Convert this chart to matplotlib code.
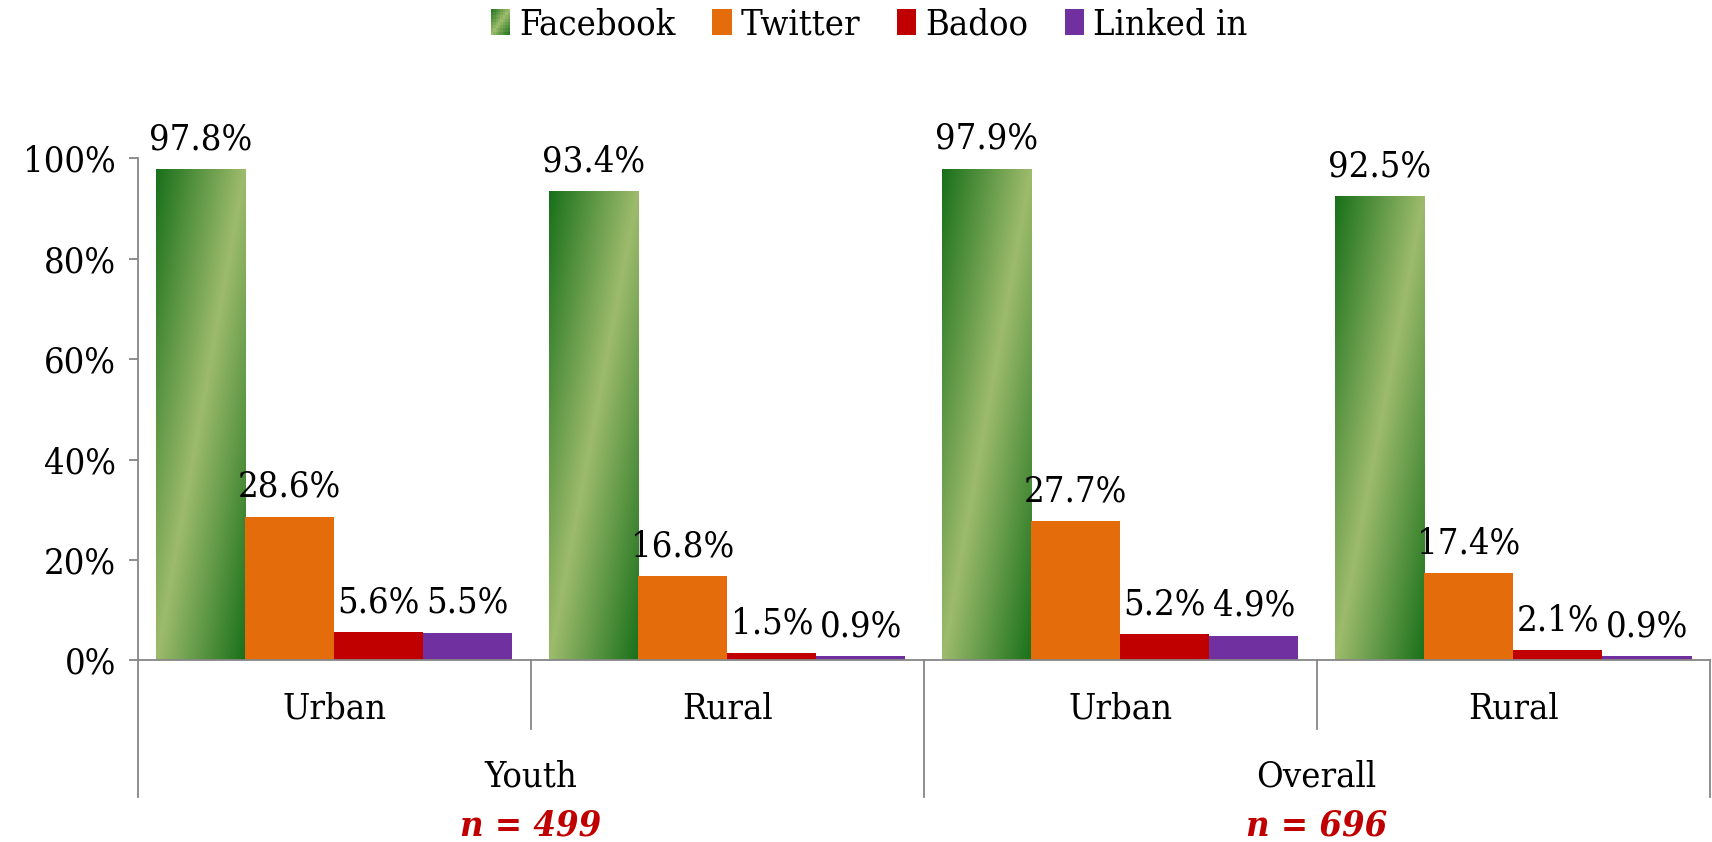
import numpy as np
import matplotlib
matplotlib.use('Agg')
import matplotlib.pyplot as plt
from matplotlib.patches import Rectangle, Patch
from matplotlib.legend_handler import HandlerBase
from matplotlib.colors import to_rgb

plt.rcParams['font.family'] = ['DejaVu Serif']
plt.rcParams['font.stretch'] = 'condensed'

groups = ['Youth', 'Overall']
sample_n = [499, 696]
areas = ['Urban', 'Rural', 'Urban', 'Rural']
series = ['Facebook', 'Twitter', 'Badoo', 'Linked in']
facebook = [97.8, 93.4, 97.9, 92.5]
twitter = [28.6, 16.8, 27.7, 17.4]
badoo = [5.6, 1.5, 5.2, 2.1]
linkedin = [5.5, 0.9, 4.9, 0.9]

values = [facebook, twitter, badoo, linkedin]
colors = [None, '#e46c0a', '#c00000', '#7030a0']
dark = np.array(to_rgb('#19701a'))
light = np.array(to_rgb('#9dbb6c'))
grey = '#868686'
FS = 26


def green_at(u, v):
    # diagonal gradient: dark corners, light band along the anti-diagonal
    t = (u + v) / 2
    s = 1 - np.abs(2 * t - 1)
    return dark + (light - dark) * s[..., None]


class GradientHandler(HandlerBase):
    def create_artists(self, legend, orig_handle, xdescent, ydescent,
                       width, height, fontsize, trans):
        arts = []
        n = 8
        for i in range(n):
            for j in range(n):
                c = green_at(np.array((i + 0.5) / n), np.array((j + 0.5) / n))
                r = Rectangle((-xdescent + i * width / n, -ydescent + height - (j + 1) * height / n),
                              width / n, height / n, facecolor=c, edgecolor='none',
                              transform=trans)
                arts.append(r)
        return arts


fig = plt.figure(figsize=(17.12, 8.42), dpi=100)
ax = fig.add_axes([0.0804, 0.2156, 0.9183, 0.5964])

ncat = len(areas)
w = 1 / (4 + 0.41)
x = np.arange(ncat) + 0.5

uu, vv = np.meshgrid(np.linspace(0, 1, 60), np.linspace(0, 1, 200))
grad = green_at(uu, vv)

for k, (vals, col) in enumerate(zip(values, colors)):
    xs = x - 2 * w + (k + 0.5) * w
    fracs = np.array(vals) / 100
    if col is None:
        bars = ax.bar(xs, fracs, w, facecolor='none', edgecolor='none', zorder=2)
        for b in bars:
            x0 = b.get_x()
            im = ax.imshow(grad, extent=[x0, x0 + w, 0, b.get_height()],
                           aspect='auto', zorder=2, origin='upper')
            im.set_clip_path(b)
    else:
        ax.bar(xs, fracs, w, color=col, edgecolor='none', zorder=2)
    for xi, v in zip(xs, vals):
        ax.annotate(f'{v:.1f}%', (xi, v / 100), xytext=(0, 21.5),
                    textcoords='offset points', ha='center', va='center',
                    fontsize=FS, annotation_clip=False)

ax.set_xlim(0, ncat)
ax.set_ylim(0, 1)
ax.set_yticks(np.arange(0, 1.01, 0.2))
ax.set_yticklabels([f'{int(round(t * 100))}%' for t in np.arange(0, 1.01, 0.2)])
ax.tick_params(axis='y', length=6.5, width=1.3, color=grey, pad=9, labelsize=FS)
ax.tick_params(axis='x', length=0, labelbottom=False)
for s in ['top', 'right']:
    ax.spines[s].set_visible(False)
for s in ['left', 'bottom']:
    ax.spines[s].set_color(grey)
    ax.spines[s].set_linewidth(1.3)

tr = ax.get_xaxis_transform()
# category separators below the axis
for b in range(ncat + 1):
    low = -0.2718 if b % 2 == 0 else -0.1364
    ax.plot([b, b], [0, low], color=grey, lw=1.3, transform=tr, clip_on=False)

for xi, a in zip(x, areas):
    ax.text(xi, -0.0966, a, transform=tr, ha='center', va='center', fontsize=FS)
for g, (name, n) in enumerate(zip(groups, sample_n)):
    gx = 2 * g + 1
    ax.text(gx, -0.2318, name, transform=tr, ha='center', va='center', fontsize=FS)
    ax.text(gx, -0.3296, f'n = {n}', transform=tr, ha='center', va='center',
            fontsize=FS, color='#c00000', fontweight='bold', fontstyle='italic')

handles = [Patch(label=series[0])] + [Patch(facecolor=c, label=s) for c, s in zip(colors[1:], series[1:])]
fig.legend(handles=handles, loc='center', bbox_to_anchor=(0.5077, 0.971), ncol=4,
           frameon=False, fontsize=FS, handlelength=0.55, handleheight=0.75,
           handletextpad=0.25, columnspacing=1.0,
           handler_map={handles[0]: GradientHandler()})

fig.savefig('out.png', dpi=100)
